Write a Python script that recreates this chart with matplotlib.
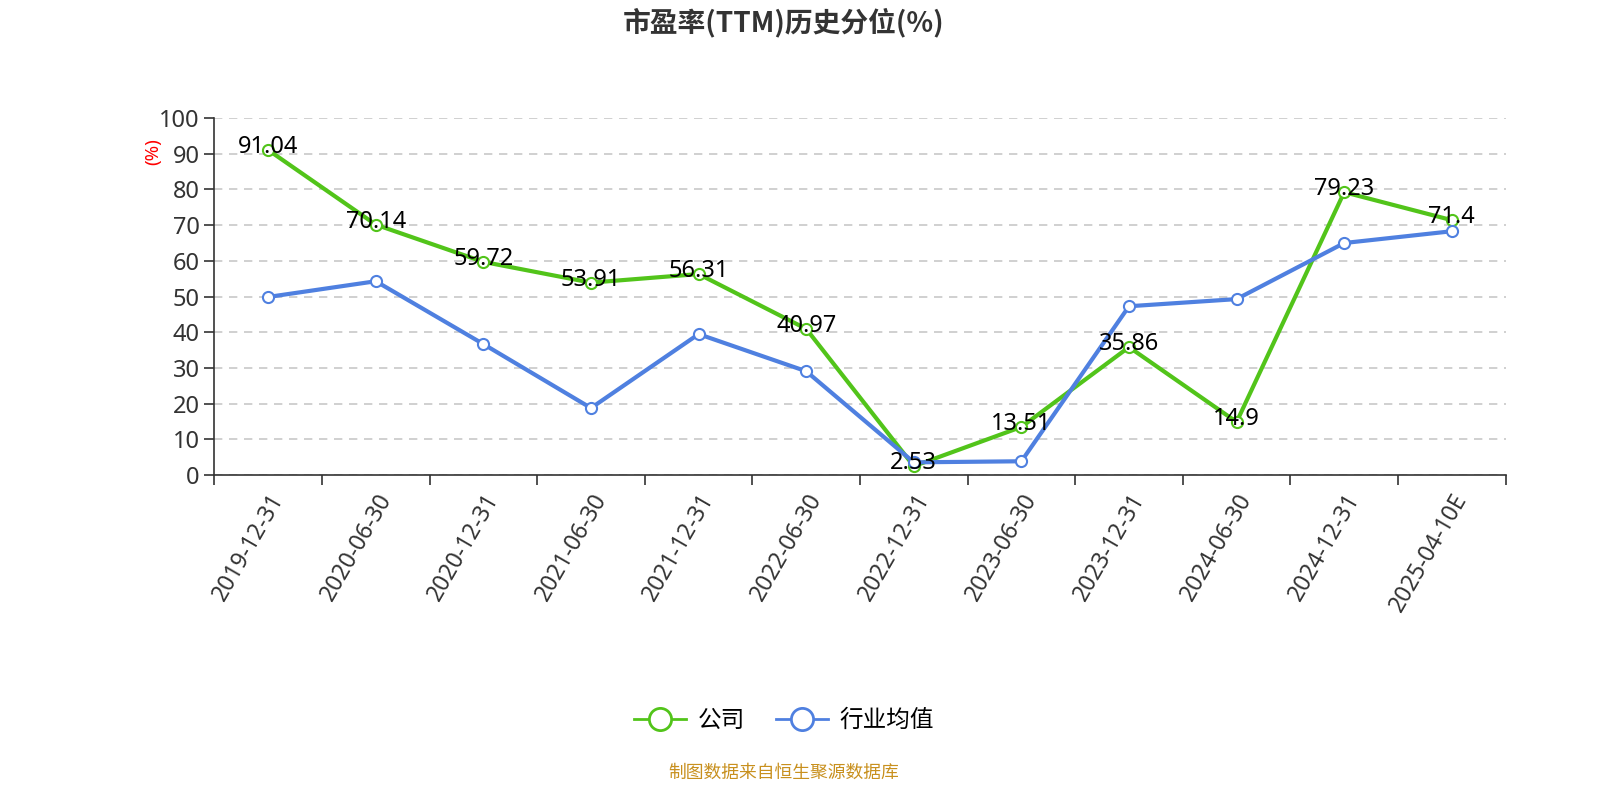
import numpy as np
import matplotlib.pyplot as plt
from matplotlib.ticker import FixedLocator, NullFormatter

plt.rcParams['font.family'] = ['Noto Sans', 'Noto Sans CJK SC', 'DejaVu Sans']

dates = ["2019-12-31", "2020-06-30", "2020-12-31", "2021-06-30", "2021-12-31",
         "2022-06-30", "2022-12-31", "2023-06-30", "2023-12-31", "2024-06-30",
         "2024-12-31", "2025-04-10E"]
company = [91.04, 70.14, 59.72, 53.91, 56.31, 40.97, 2.53, 13.51, 35.86, 14.9,
           79.23, 71.4]
industry = [49.9, 54.3, 36.7, 18.8, 39.5, 29.1, 3.6, 3.9, 47.3, 49.3, 65.0, 68.3]

green = "#52c41a"
blue = "#4f80e0"

fig = plt.figure(figsize=(16, 8), dpi=100)
ax = fig.add_axes([0.134, 0.406, 0.807, 0.4465])

x = np.arange(len(dates))
ax.plot(x, company, color=green, linewidth=3, marker="o", markersize=8,
        markerfacecolor="white", markeredgecolor=green, markeredgewidth=1.5,
        label="公司", zorder=3)
ax.plot(x, industry, color=blue, linewidth=3, marker="o", markersize=8,
        markerfacecolor="white", markeredgecolor=blue, markeredgewidth=1.5,
        label="行业均值", zorder=3)

for xi, v in zip(x, company):
    ax.annotate("{:g}".format(v), (xi, v), xytext=(0, 2), textcoords="offset points",
                ha="center", va="center", fontsize=17, color="black", zorder=4)

ax.set_xlim(-0.5, len(dates) - 0.5)
ax.set_ylim(0, 100)
ax.set_yticks(np.arange(0, 101, 10))
ax.tick_params(axis="y", labelsize=17, colors="#333333", length=7, width=1.2)
ax.yaxis.grid(True, linestyle=(0, (5, 4)), color="#c8c8c8", linewidth=1.2)
ax.set_axisbelow(True)

ax.xaxis.set_major_locator(FixedLocator(np.arange(-0.5, len(dates), 1.0)))
ax.xaxis.set_major_formatter(NullFormatter())
ax.xaxis.set_minor_locator(FixedLocator(x))
ax.set_xticklabels(dates, minor=True, rotation=60, ha="right", rotation_mode="anchor",
                   fontsize=16.5, color="#333333")
ax.tick_params(axis="x", which="major", length=7, width=1.2, color="#333333")
ax.tick_params(axis="x", which="minor", length=0, pad=10)

for side in ["top", "right"]:
    ax.spines[side].set_visible(False)
for side in ["left", "bottom"]:
    ax.spines[side].set_color("#333333")
    ax.spines[side].set_linewidth(1.2)

fig.text(0.0955, 0.81, "(%)", color="red", fontsize=13.5, rotation=90,
         ha="center", va="center")

fig.suptitle("市盈率(TTM)历史分位(%)", x=0.49, y=0.99, fontsize=20,
             fontweight="bold", color="#333333",
             family=["Noto Sans CJK SC", "DejaVu Sans"])

leg = fig.legend(loc="center", bbox_to_anchor=(0.49, 0.099), ncol=2, frameon=False,
                 fontsize=17, markerscale=2.0, handlelength=2.2, columnspacing=1.3,
                 handletextpad=0.5)
for line in leg.get_lines():
    line.set_linewidth(2)
    line.set_markeredgewidth(2)

fig.text(0.49, 0.034, "制图数据来自恒生聚源数据库", color="#c8901e", fontsize=12.8,
         ha="center", va="center")

fig.savefig("out.png", dpi=100)
